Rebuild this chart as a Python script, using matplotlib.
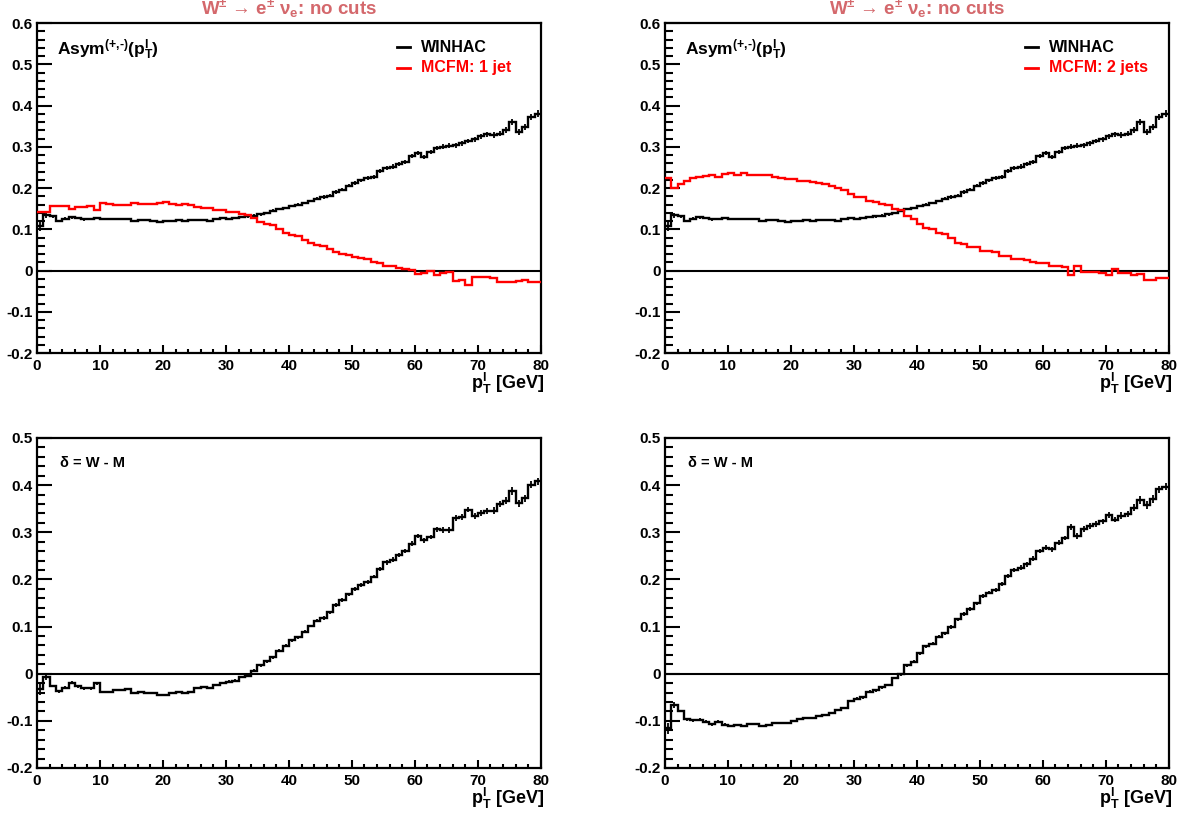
import numpy as np
import matplotlib
matplotlib.use("Agg")
import matplotlib.pyplot as plt
from matplotlib.ticker import MultipleLocator

plt.rcParams['font.family'] = ['Liberation Sans', 'DejaVu Sans']
plt.rcParams['font.weight'] = 'bold'
plt.rcParams['mathtext.fontset'] = 'custom'
plt.rcParams['mathtext.rm'] = 'Liberation Sans:bold'
plt.rcParams['mathtext.it'] = 'Liberation Sans:bold'
plt.rcParams['mathtext.bf'] = 'Liberation Sans:bold'
plt.rcParams['mathtext.default'] = 'bf'

# lepton pT bins [GeV], 1 GeV wide
PT_EDGES = list(range(0, 81))

# WINHAC asymmetry per bin
WINHAC = [0.108, 0.134, 0.131, 0.120, 0.126, 0.129, 0.127, 0.124, 0.125, 0.127,
          0.125, 0.124, 0.126, 0.125, 0.125, 0.121, 0.122, 0.122, 0.121, 0.118,
          0.120, 0.121, 0.122, 0.121, 0.122, 0.122, 0.123, 0.121, 0.124, 0.127,
          0.125, 0.127, 0.130, 0.131, 0.133, 0.136, 0.139, 0.145, 0.149, 0.151,
          0.156, 0.160, 0.164, 0.168, 0.174, 0.178, 0.181, 0.190, 0.196, 0.206,
          0.212, 0.219, 0.224, 0.227, 0.241, 0.248, 0.252, 0.258, 0.264, 0.278,
          0.284, 0.276, 0.288, 0.296, 0.300, 0.302, 0.304, 0.309, 0.314, 0.318,
          0.325, 0.330, 0.329, 0.332, 0.340, 0.360, 0.336, 0.348, 0.372, 0.380]

WINHAC_ERR = [0.012, 0.006, 0.003, 0.003, 0.003, 0.003, 0.003, 0.003, 0.003, 0.003,
              0.002, 0.002, 0.002, 0.002, 0.002, 0.002, 0.002, 0.002, 0.002, 0.002,
              0.002, 0.002, 0.002, 0.002, 0.002, 0.002, 0.002, 0.002, 0.002, 0.002,
              0.003, 0.003, 0.003, 0.003, 0.003, 0.003, 0.003, 0.003, 0.003, 0.003,
              0.003, 0.003, 0.003, 0.003, 0.003, 0.004, 0.004, 0.004, 0.004, 0.004,
              0.004, 0.004, 0.004, 0.004, 0.005, 0.005, 0.005, 0.005, 0.005, 0.005,
              0.005, 0.005, 0.005, 0.005, 0.006, 0.006, 0.006, 0.006, 0.006, 0.006,
              0.006, 0.006, 0.007, 0.007, 0.007, 0.008, 0.008, 0.008, 0.008, 0.008]

# MCFM W + 1 jet
MCFM_1JET = [0.141, 0.141, 0.157, 0.157, 0.156, 0.148, 0.154, 0.155, 0.156, 0.147,
             0.163, 0.162, 0.160, 0.159, 0.158, 0.163, 0.161, 0.162, 0.162, 0.163,
             0.165, 0.161, 0.160, 0.161, 0.160, 0.153, 0.152, 0.151, 0.147, 0.147,
             0.142, 0.142, 0.137, 0.135, 0.127, 0.118, 0.113, 0.110, 0.100, 0.092,
             0.085, 0.083, 0.075, 0.067, 0.062, 0.060, 0.051, 0.045, 0.040, 0.038,
             0.032, 0.031, 0.029, 0.021, 0.019, 0.012, 0.010, 0.006, 0.004, 0.002,
             -0.008, -0.007, -0.002, -0.010, -0.005, -0.003, -0.026, -0.024, -0.034, -0.016,
             -0.016, -0.015, -0.017, -0.028, -0.027, -0.027, -0.025, -0.024, -0.029, -0.028]

# MCFM W + 2 jets
MCFM_2JETS = [0.224, 0.200, 0.210, 0.217, 0.225, 0.227, 0.229, 0.231, 0.227, 0.235,
              0.236, 0.232, 0.236, 0.231, 0.232, 0.232, 0.231, 0.226, 0.225, 0.222,
              0.221, 0.217, 0.216, 0.215, 0.211, 0.210, 0.206, 0.199, 0.196, 0.185,
              0.178, 0.177, 0.168, 0.166, 0.162, 0.160, 0.148, 0.146, 0.131, 0.126,
              0.113, 0.102, 0.100, 0.090, 0.088, 0.079, 0.066, 0.064, 0.058, 0.057,
              0.048, 0.047, 0.046, 0.036, 0.034, 0.028, 0.027, 0.026, 0.020, 0.018,
              0.017, 0.012, 0.010, 0.008, -0.011, 0.010, -0.003, -0.004, -0.003, -0.005,
              -0.012, 0.003, -0.006, -0.007, -0.012, -0.008, -0.022, -0.023, -0.019, -0.017]

MCFM_LABELS = ["MCFM: 1 jet", "MCFM: 2 jets"]
TITLE = r"W$^{\pm}$ → e$^{\pm}$ ν$_{e}$: no cuts"
XLABEL = r"p$^{l}_{T}$ [GeV]"
ASYM = r"Asym$^{\text{(+,-)}}$(p$^{l}_{T}$)"


def style_axes(ax, ymin, ymax):
    ax.set_xlim(0, 80)
    ax.set_ylim(ymin, ymax)
    ax.xaxis.set_major_locator(MultipleLocator(10))
    ax.xaxis.set_minor_locator(MultipleLocator(2))
    ax.yaxis.set_major_locator(MultipleLocator(0.1))
    ax.yaxis.set_minor_locator(MultipleLocator(0.02))
    ax.yaxis.set_major_formatter(lambda v, p: "0" if abs(v) < 1e-9 else f"{v:.1f}")
    ax.tick_params(axis='y', which='major', direction='in', length=10.5, width=1.5,
                   labelsize=11, pad=3)
    ax.tick_params(axis='y', which='minor', direction='in', length=5.5, width=1.5)
    ax.tick_params(axis='x', which='major', direction='in', length=6, width=1.5,
                   labelsize=11, pad=4)
    ax.tick_params(axis='x', which='minor', direction='in', length=3, width=1.5)
    for sp in ax.spines.values():
        sp.set_linewidth(1.6)
    ax.axhline(0, color='black', lw=1.5, zorder=1)
    ax.text(1.008, -0.108, XLABEL, transform=ax.transAxes, ha='right', va='baseline',
            fontsize=13, fontweight='bold')


def draw_hist(ax, vals, color, err=None):
    ax.stairs(vals, PT_EDGES, baseline=None, color=color, lw=1.7, zorder=3)
    if err is not None:
        centers = (np.array(PT_EDGES[:-1]) + np.array(PT_EDGES[1:])) / 2
        ax.errorbar(centers, vals, yerr=err, fmt='none', ecolor=color, elinewidth=1.3,
                    capsize=0, zorder=3)


fig = plt.figure(figsize=(11.87, 8.13), dpi=100)

lefts = [0.0312, 0.5602]
width = 0.4244
top_bottom = 0.5658
bot_bottom = 0.0554
height = 0.4059

for col, mcfm in enumerate([MCFM_1JET, MCFM_2JETS]):
    w = np.array(WINHAC)
    m = np.array(mcfm)

    # top: asymmetries
    ax = fig.add_axes([lefts[col], top_bottom, width, height])
    style_axes(ax, -0.2, 0.6)
    draw_hist(ax, w, 'black', WINHAC_ERR)
    draw_hist(ax, m, 'red')
    ax.text(0.04, 0.902, ASYM, transform=ax.transAxes,
            fontsize=12.5, fontweight='bold', va='baseline', ha='left')
    for k, (lab, c) in enumerate([("WINHAC", 'black'), (MCFM_LABELS[col], 'red')]):
        yy = 0.927 - k * 0.062
        ax.plot([0.715, 0.74], [yy, yy], color=c, lw=2, transform=ax.transAxes)
        ax.text(0.762, yy, lab, color=c, transform=ax.transAxes, fontsize=11.5,
                fontweight='bold', va='center', ha='left')
    fig.text(lefts[col] + width / 2, 0.9815, TITLE, color='#d4686c', fontsize=13.5,
             fontweight='bold', ha='center', va='baseline')

    # bottom: difference W - M
    ax2 = fig.add_axes([lefts[col], bot_bottom, width, height])
    style_axes(ax2, -0.2, 0.5)
    draw_hist(ax2, w - m, 'black', WINHAC_ERR)
    ax2.text(0.045, 0.925, "δ = W - M", transform=ax2.transAxes, fontsize=10.5,
             fontweight='bold', va='center', ha='left')

fig.savefig("out.png", dpi=100)
